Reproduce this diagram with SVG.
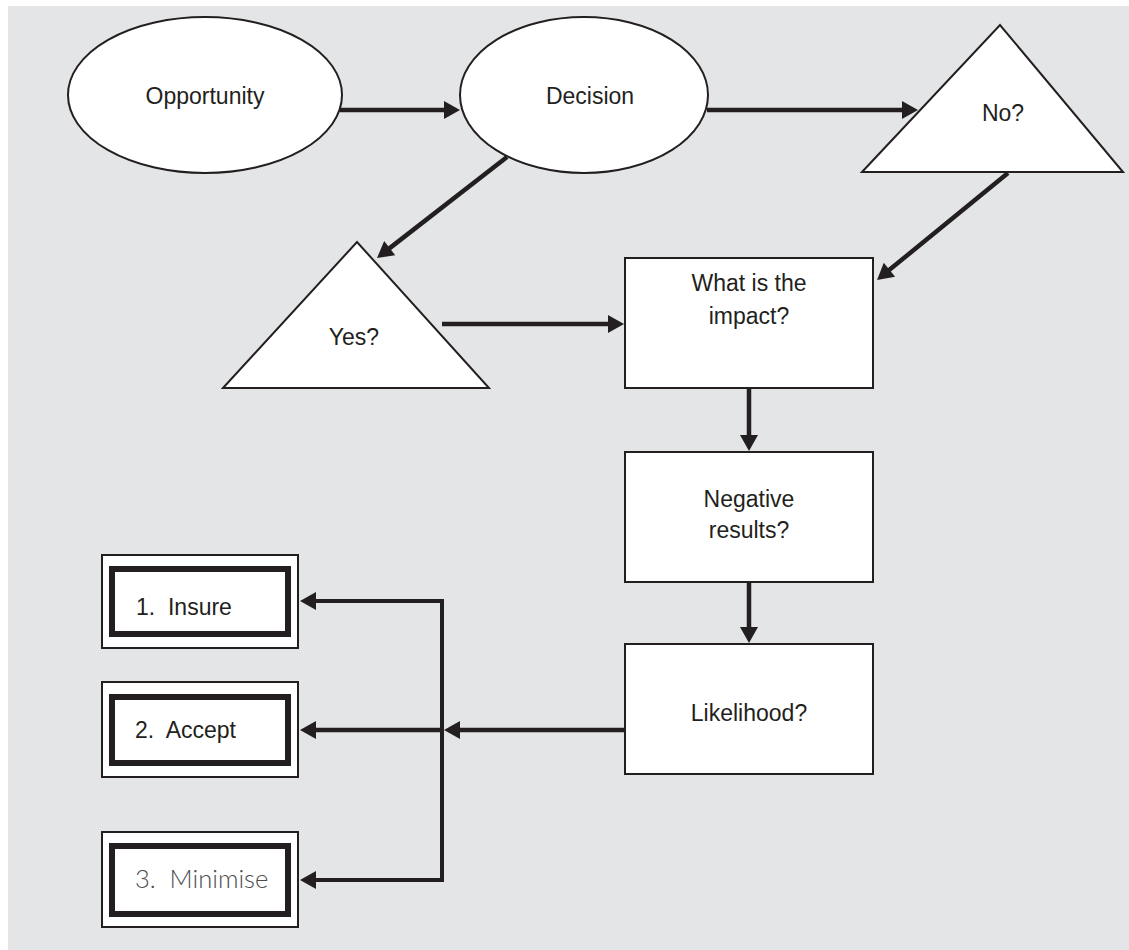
<svg xmlns="http://www.w3.org/2000/svg" width="1129" height="950" viewBox="0 0 1129 950">
  <defs>
    <marker id="arrow" markerUnits="userSpaceOnUse" markerWidth="18" markerHeight="18" viewBox="0 0 16 18" refX="2" refY="9" orient="auto-start-reverse">
      <path d="M0,0 L16,9 L0,18 z" fill="#231f20"/>
    </marker>
    <style>
      .shape { fill: #ffffff; stroke: #231f20; stroke-width: 2; }
      .outer { fill: #ffffff; stroke: #231f20; stroke-width: 2; }
      .inner { fill: #ffffff; stroke: #231f20; stroke-width: 6; }
      .link { fill: none; stroke: #231f20; stroke-width: 4.5; marker-end: url(#arrow); }
      .label { font-family: "Liberation Sans", Arial, sans-serif; font-size: 23px; fill: #231f20; text-anchor: middle; }
      .item { font-family: "Liberation Sans", Arial, sans-serif; font-size: 23px; fill: #231f20; }
      .thin { font-family: Lato, "Liberation Sans", sans-serif; font-weight: 300; font-size: 25.5px; fill: #4d4d4f; }
    </style>
  </defs>

  <!-- page background -->
  <rect x="0" y="0" width="1129" height="950" fill="#ffffff"/>
  <rect x="8" y="6" width="1121" height="944" fill="#e4e5e7"/>

  <!-- connectors -->
  <g id="connectors">
    <path class="link" d="M340,110 H446"/>
    <path class="link" d="M707,110 H904"/>
    <path class="link" d="M507,157 L388.1,249.4"/>
    <path class="link" d="M1008,173 L887.9,271.1"/>
    <path class="link" d="M442,324 H610"/>
    <path class="link" d="M749,388 V437"/>
    <path class="link" d="M749,582 V629"/>
    <path class="link" d="M625,730 H458"/>
    <path class="link" d="M442,730 H314"/>
    <path class="link" d="M314,601 H442 V880 H314" style="marker-start: url(#arrow); stroke-width: 4"/>
  </g>

  <!-- nodes -->
  <g id="opportunity">
    <ellipse class="shape" cx="205" cy="95" rx="137" ry="78"/>
    <text class="label" x="205" y="104">Opportunity</text>
  </g>
  <g id="decision">
    <ellipse class="shape" cx="584" cy="95" rx="124" ry="78"/>
    <text class="label" x="590" y="104">Decision</text>
  </g>
  <g id="no">
    <polygon class="shape" points="862,172 1000,25 1123,172"/>
    <text class="label" x="1003" y="121">No?</text>
  </g>
  <g id="yes">
    <polygon class="shape" points="223,388 357,242 489,388"/>
    <text class="label" x="354" y="345">Yes?</text>
  </g>
  <g id="impact">
    <rect class="shape" x="625" y="258" width="248" height="130"/>
    <text class="label" x="749" y="291">What is the</text>
    <text class="label" x="749" y="324">impact?</text>
  </g>
  <g id="negative">
    <rect class="shape" x="625" y="452" width="248" height="130"/>
    <text class="label" x="749" y="507">Negative</text>
    <text class="label" x="749" y="538">results?</text>
  </g>
  <g id="likelihood">
    <rect class="shape" x="625" y="644" width="248" height="130"/>
    <text class="label" x="749" y="721">Likelihood?</text>
  </g>
  <g id="insure">
    <rect class="outer" x="102" y="555" width="196" height="93"/>
    <rect class="inner" x="112" y="569" width="176" height="65"/>
    <text class="item" x="136" y="615" xml:space="preserve">1.  Insure</text>
  </g>
  <g id="accept">
    <rect class="outer" x="102" y="682" width="196" height="95"/>
    <rect class="inner" x="112" y="697" width="176" height="66"/>
    <text class="item" x="135" y="738" xml:space="preserve">2.  Accept</text>
  </g>
  <g id="minimise">
    <rect class="outer" x="102" y="832" width="196" height="95"/>
    <rect class="inner" x="112" y="846" width="176" height="68"/>
    <text class="thin" x="135" y="888" xml:space="preserve">3.  Minimise</text>
  </g>
</svg>
